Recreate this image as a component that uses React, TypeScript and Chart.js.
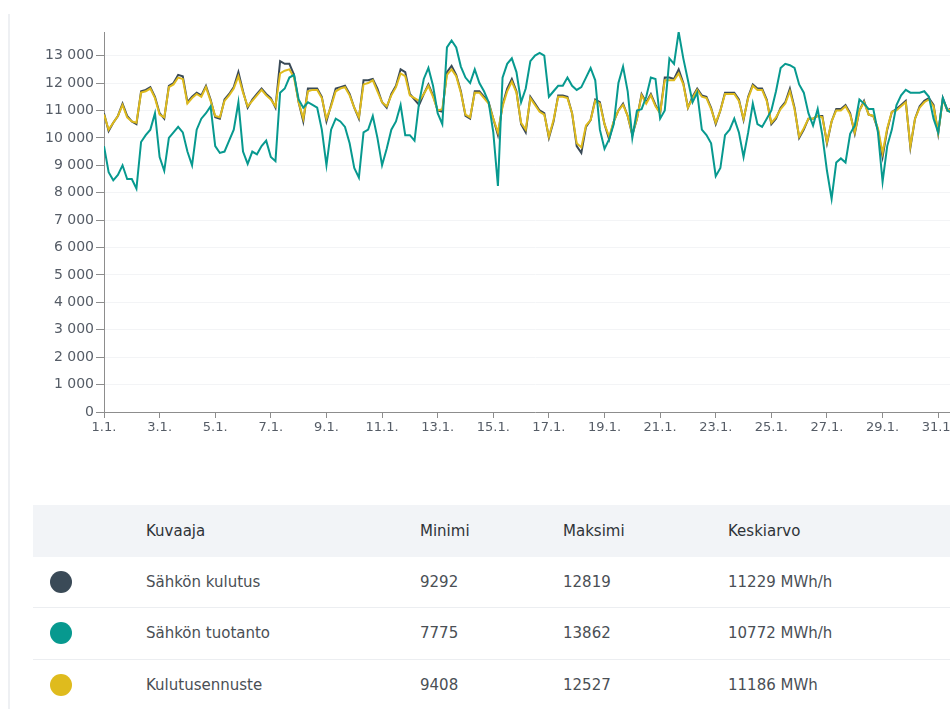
import React, { useEffect, useRef } from 'react';
import { Chart, registerables } from 'chart.js';

Chart.register(...registerables);

// ---- data (4-hour resolution, January, starting 1.1. 00:00) ----
const STEP_HOURS = 4;
const SERIES_NAMES = ['Sähkön kulutus', 'Sähkön tuotanto', 'Kulutusennuste'];
const SERIES_COLORS = ['#3a4a57', '#07998f', '#dfbb1d'];

const consumption = [
  10900, 10250, 10550, 10800, 11250, 10800,
  10600, 10500, 11700, 11750, 11850, 11500,
  10900, 10700, 11900, 12000, 12300, 12250,
  11300, 11500, 11650, 11550, 11900, 11400,
  10750, 10700, 11400, 11600, 11850, 12400,
  11700, 11100, 11400, 11600, 11800, 11600,
  11450, 11100, 12800, 12700, 12700, 12300,
  11300, 10600, 11800, 11800, 11800, 11500,
  10600, 11200, 11800, 11850, 11900, 11600,
  11100, 10700, 12100, 12100, 12150, 11800,
  11300, 11100, 11600, 11900, 12500, 12400,
  11600, 11400, 11200, 11600, 11950, 11550,
  11000, 10950, 12400, 12630, 12300, 11700,
  10800, 10700, 11700, 11700, 11500, 11300,
  10700, 10100, 11200, 11800, 12150, 11700,
  10500, 10200, 11500, 11250, 11000, 10900,
  10000, 10600, 11550, 11550, 11500, 10900,
  9700, 9450, 10400, 10650, 11400, 11300,
  10500, 9950, 10600, 11000, 11250, 10800,
  10100, 10700, 11600, 11300, 11600, 11200,
  10900, 12200, 12200, 12150, 12500, 12000,
  11100, 11500, 11800, 11550, 11500, 11100,
  10500, 11000, 11650, 11650, 11650, 11400,
  10650, 11500, 11950, 11800, 11800, 11400,
  10500, 10700, 11100, 11300, 11800, 11100,
  10000, 10300, 10700, 10700, 10800, 10800,
  9800, 10600, 11050, 11050, 11200, 10900,
  10150, 11000, 11350, 10850, 10800, 10300,
  9300, 10300, 10950, 11050, 11200, 11350,
  9650, 10700, 11150, 11350, 11450, 11200,
  10150, 11450, 11000, 11100, 11000, 10800,
];

const production = [
  9700, 8750, 8450, 8650, 9000, 8500,
  8500, 8150, 9850, 10100, 10300, 10900,
  9300, 8800, 10000, 10200, 10400, 10200,
  9500, 9000, 10300, 10700, 10900, 11150,
  9700, 9450, 9500, 9900, 10300, 11300,
  9500, 9050, 9500, 9400, 9700, 9900,
  9300, 9150, 11650, 11800, 12200, 12300,
  11400, 11100, 11300, 11200, 11100, 10300,
  9000, 10300, 10700, 10600, 10400, 9800,
  8900, 8550, 10200, 10300, 10800, 10000,
  9000, 9600, 10300, 10600, 11200, 10100,
  10100, 9900, 11300, 12150, 12550, 11900,
  10900, 10500, 13300, 13550, 13300, 12600,
  12200, 12000, 12500, 12000, 11700, 11300,
  10200, 8250, 12200, 12700, 12900, 12400,
  11300, 11800, 12800, 13000, 13100, 13000,
  11500, 11700, 11900, 11900, 12200, 11900,
  11750, 11850, 12200, 12550, 12100, 10300,
  9600, 9950, 10500, 12000, 12600, 11700,
  10000, 11000, 11050, 11500, 12200, 12150,
  10700, 11000, 12900, 12700, 13862, 12900,
  12100, 11300, 11650, 10300, 10100, 9800,
  8600, 8900, 10100, 10300, 10700, 10200,
  9300, 10200, 11250, 10500, 10400, 10700,
  11000, 11700, 12550, 12700, 12650, 12550,
  11950, 11650, 10900, 10450, 11050, 10100,
  8800, 7775, 9100, 9250, 9100, 10150,
  10450, 11400, 11250, 11050, 11050, 10200,
  8400, 9700, 10300, 11200, 11550, 11750,
  11650, 11650, 11650, 11700, 11500, 10700,
  10200, 11450, 11000, 10900, 10800, 10700,
];

const forecast = [
  10850, 10300, 10550, 10800, 11200, 10750,
  10600, 10550, 11650, 11700, 11800, 11450,
  10850, 10750, 11850, 11950, 12200, 12150,
  11250, 11450, 11600, 11500, 11850, 11350,
  10800, 10750, 11350, 11550, 11800, 12250,
  11650, 11150, 11350, 11550, 11750, 11550,
  11400, 11150, 12350, 12450, 12500, 12200,
  11300, 10700, 11700, 11750, 11750, 11450,
  10700, 11150, 11700, 11800, 11850, 11550,
  11100, 10750, 11950, 12000, 12100, 11700,
  11300, 11150, 11550, 11850, 12350, 12250,
  11550, 11450, 11350, 11600, 11900, 11500,
  11000, 11050, 12300, 12500, 12250, 11650,
  10850, 10750, 11650, 11650, 11450, 11250,
  10700, 10200, 11150, 11700, 12050, 11650,
  10550, 10300, 11450, 11200, 10950, 10850,
  10050, 10650, 11500, 11500, 11450, 10900,
  9800, 9650, 10450, 10650, 11350, 11250,
  10500, 10050, 10600, 11000, 11200, 10800,
  10150, 10700, 11550, 11250, 11550, 11150,
  10900, 12100, 12100, 12100, 12350, 11950,
  11100, 11450, 11750, 11500, 11450, 11050,
  10550, 11000, 11600, 11600, 11600, 11350,
  10700, 11450, 11900, 11750, 11750, 11350,
  10550, 10750, 11050, 11250, 11700, 11050,
  10050, 10350, 10700, 10700, 10800, 10750,
  9850, 10600, 11000, 11000, 11150, 10850,
  10200, 11000, 11300, 10850, 10800, 10350,
  9450, 10350, 10950, 11000, 11150, 11300,
  9700, 10700, 11100, 11300, 11400, 11150,
  10200, 11400, 11000, 11050, 10950, 10800,
];

const MONTH_HOURS = 744;
const Y_MAX = 13862;
const Y_TICKS = [0, 1000, 2000, 3000, 4000, 5000, 6000, 7000, 8000, 9000, 10000, 11000, 12000, 13000];
const X_TICKS = [0, 48, 96, 144, 192, 240, 288, 336, 384, 432, 480, 528, 576, 624, 672, 720];

// ---- table ----
const TABLE_HEADERS = ['Kuvaaja', 'Minimi', 'Maksimi', 'Keskiarvo'];
const MIN_VALUES = ['9292', '7775', '9408'];
const MAX_VALUES = ['12819', '13862', '12527'];
const AVG_VALUES = ['11229 MWh/h', '10772 MWh/h', '11186 MWh'];

const fmt = (v: number) => String(Math.round(v)).replace(/\B(?=(\d{3})+(?!\d))/g, ' ');

const toPoints = (arr: number[]) => arr.map((y, i) => ({ x: i * STEP_HOURS, y }));

function LineChart() {
  const ref = useRef<HTMLCanvasElement | null>(null);
  useEffect(() => {
    if (!ref.current) return;
    const seriesData = [consumption, production, forecast];
    const orders = [2, 0, 1];
    const chart = new Chart(ref.current, {
      type: 'line',
      data: {
        datasets: seriesData.map((d, i) => ({
          label: SERIES_NAMES[i],
          data: toPoints(d),
          borderColor: SERIES_COLORS[i],
          backgroundColor: SERIES_COLORS[i],
          borderWidth: 2,
          pointRadius: 0,
          tension: 0,
          fill: false,
          order: orders[i],
        })),
      },
      options: {
        animation: false,
        responsive: false,
        maintainAspectRatio: false,
        layout: { padding: { top: 32, right: 34, bottom: 0, left: 0 } },
        plugins: { legend: { display: false }, tooltip: { enabled: false } },
        scales: {
          x: {
            type: 'linear',
            min: 0,
            max: MONTH_HOURS,
            afterBuildTicks: (s: any) => { s.ticks = X_TICKS.map((value) => ({ value })); },
            afterFit: (s: any) => { s.height = 33; },
            grid: { drawOnChartArea: false, drawTicks: true, tickLength: 6, color: '#8d8d8d', tickColor: '#8d8d8d' },
            border: { color: '#8d8d8d', width: 1 },
            ticks: {
              autoSkip: false,
              maxRotation: 0,
              padding: 2,
              color: '#555c66',
              font: { family: 'DejaVu Sans', size: 13 },
              callback: (v: any) => `${Math.round(Number(v) / 24) + 1}.1.`,
            },
          },
          y: {
            min: 0,
            max: Y_MAX,
            afterBuildTicks: (s: any) => { s.ticks = Y_TICKS.map((value) => ({ value })); },
            afterFit: (s: any) => { s.width = 104; },
            grid: { color: '#f3f4f6', tickColor: '#8d8d8d', tickLength: 8, drawTicks: true },
            border: { color: '#8d8d8d', width: 1 },
            ticks: {
              autoSkip: false,
              padding: 2,
              color: '#555c66',
              font: { family: 'DejaVu Sans', size: 14 },
              callback: (v: any) => fmt(Number(v)),
            },
          },
        },
      },
    } as any);
    return () => chart.destroy();
  }, []);
  return <canvas ref={ref} width={1000} height={445} style={{ position: 'absolute', left: 0, top: 0, width: 1000, height: 445 }} />;
}

const COL_X = [146, 420, 563, 728];

export default function App() {
  const rowTops = [557, 608, 660];
  return (
    <div style={{ position: 'relative', width: 950, height: 709, overflow: 'hidden', background: '#fff', fontFamily: 'DejaVu Sans, sans-serif' }}>
      <style>{`body{margin:0;}`}</style>
      <div style={{ position: 'absolute', left: 8, top: 14, width: 2, height: 700, background: '#eef0f3' }} />
      <LineChart />
      {/* header */}
      <div style={{ position: 'absolute', left: 33, top: 505, width: 940, height: 52, background: '#f2f4f7' }} />
      {TABLE_HEADERS.map((h, i) => (
        <div key={h} style={{ position: 'absolute', left: COL_X[i], top: 505, height: 52, lineHeight: '52px', fontSize: 15, color: '#2f3338', whiteSpace: 'nowrap' }}>{h}</div>
      ))}
      {SERIES_NAMES.map((name, r) => {
        const top = rowTops[r];
        const cells = [name, MIN_VALUES[r], MAX_VALUES[r], AVG_VALUES[r]];
        return (
          <React.Fragment key={name}>
            {r > 0 && <div style={{ position: 'absolute', left: 33, top: top - 1, width: 940, height: 1, background: '#eceef1' }} />}
            <div style={{ position: 'absolute', left: 50, top: top + 25 - 11, width: 22, height: 22, borderRadius: '50%', background: SERIES_COLORS[r] }} />
            {cells.map((c, i) => (
              <div key={i} style={{ position: 'absolute', left: COL_X[i], top, height: 51, lineHeight: '51px', fontSize: 15, color: '#4a4f55', whiteSpace: 'nowrap' }}>{c}</div>
            ))}
          </React.Fragment>
        );
      })}
    </div>
  );
}
